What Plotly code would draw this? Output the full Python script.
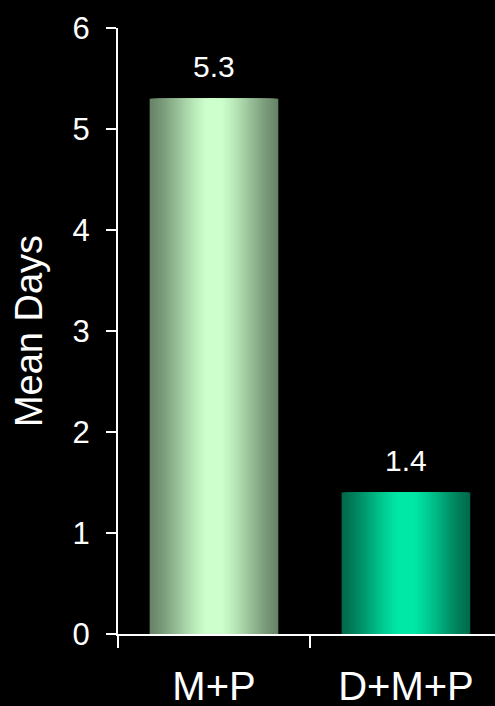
import plotly.graph_objects as go

# Data
categories = ["M+P", "D+M+P"]
mean_days = [5.3, 1.4]
value_labels = ["5.3", "1.4"]
y_ticks = [0, 1, 2, 3, 4, 5, 6]

# Cylinder-style shading: edge colour -> centre colour for each bar
edge_colors = [(0x68, 0x84, 0x68), (0x00, 0x6a, 0x4c)]
center_colors = [(0xcc, 0xff, 0xcc), (0x00, 0xe8, 0xa6)]

BAR_WIDTH = 0.67
STEPS = 48
FONT = "Arial, Liberation Sans, sans-serif"


def mix(c0, c1, t):
    return "rgb({},{},{})".format(*[round(a + (b - a) * t) for a, b in zip(c0, c1)])


fig = go.Figure()

# Overlaid bars of shrinking width build a horizontal gradient
for k in range(STEPS):
    s = 1 - k / STEPS  # fraction of the full bar width
    t = min(1.0, (1 - s) * 1.15)
    t = t * t * (3 - 2 * t) * 0.35 + t * 0.65
    colors = [mix(e, c, t) for e, c in zip(edge_colors, center_colors)]
    fig.add_trace(go.Bar(
        x=categories,
        y=mean_days,
        width=[BAR_WIDTH * s] * len(categories),
        marker=dict(color=colors, line=dict(width=0)),
        hoverinfo="skip" if k else None,
        showlegend=False,
    ))

# Value labels above the bars
for cat, v, lab in zip(categories, mean_days, value_labels):
    fig.add_annotation(
        x=cat, y=v, text=lab, showarrow=False,
        yanchor="bottom", yshift=14,
        font=dict(family=FONT, size=30, color="white"),
    )

fig.update_layout(
    width=495, height=706,
    barmode="overlay",
    paper_bgcolor="black",
    plot_bgcolor="black",
    margin=dict(l=118, r=0, t=28, b=72),
    font=dict(family=FONT, color="white"),
    showlegend=False,
)

fig.update_xaxes(
    type="category",
    range=[-0.5, 1.464],
    automargin=False,
    showline=True, linecolor="white", linewidth=2,
    ticks="outside", tickson="boundaries", ticklen=12, tickwidth=2, tickcolor="white",
    tickfont=dict(family=FONT, size=40, color="white"),
    ticklabelstandoff=16,
    showgrid=False, zeroline=False,
)

fig.update_yaxes(
    range=[0, 6],
    tickvals=y_ticks,
    automargin=False,
    showline=True, linecolor="white", linewidth=2,
    ticks="outside", ticklen=10, tickwidth=2, tickcolor="white",
    tickfont=dict(family=FONT, size=31, color="white"),
    ticklabelstandoff=10,
    showgrid=False, zeroline=False,
    title=dict(text="Mean Days", font=dict(family=FONT, size=38, color="white"), standoff=18),
)

fig.write_html("out.html")
